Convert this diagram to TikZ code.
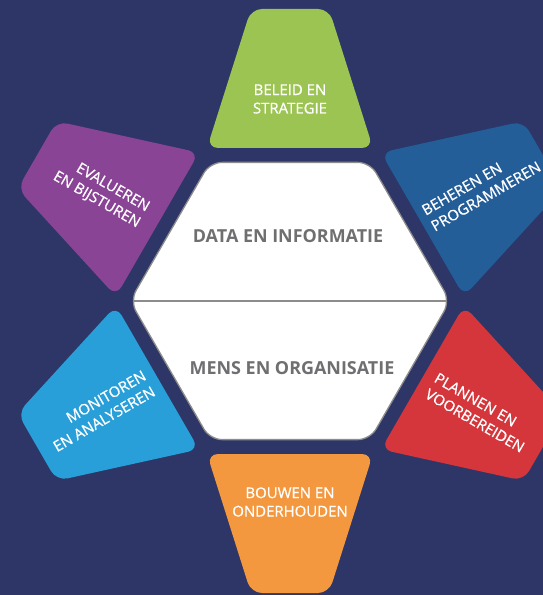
\documentclass[tikz,border=0pt]{standalone}
\usepackage{fontspec}
\setmainfont{Open Sans}
\newfontfamily\petalfont[FakeBold=0.7]{Open Sans}
\definecolor{navy}{HTML}{2D3666}
\definecolor{beleidgreen}{HTML}{9BC453}
\definecolor{beherenblue}{HTML}{245E99}
\definecolor{plannenred}{HTML}{D5363C}
\definecolor{bouwenorange}{HTML}{F4983F}
\definecolor{monitorenblue}{HTML}{289FD8}
\definecolor{evaluerenpurple}{HTML}{8A4495}
\definecolor{coregray}{HTML}{6F6F71}
\tikzset{
  petal/.style={rounded corners=11bp},
  petaltext/.style={text=white, font=\petalfont\fontsize{15}{18.5}\selectfont},
  coretext/.style={text=coregray, font=\fontsize{18}{22}\selectfont\bfseries}
}
\begin{document}
\begin{tikzpicture}[x=1bp,y=1bp]
    %% Background
    \fill[navy] (-290,-294) rectangle (253,301);
    \useasboundingbox (-290,-294) rectangle (253,301);
    \clip (-290,-294) rectangle (253,301);
    %% Petals
    \fill[beleidgreen,petal] (-83,153) -- (-39,292) -- (39,292) -- (83,153) -- cycle;
    \fill[beherenblue,petal,rotate=-60] (-83,153) -- (-39,292) -- (39,292) -- (83,153) -- cycle;
    \fill[plannenred,petal,rotate=-120] (-83,153) -- (-39,292) -- (39,292) -- (83,153) -- cycle;
    \fill[bouwenorange,petal,rotate=180] (-83,153) -- (-39,292) -- (39,292) -- (83,153) -- cycle;
    \fill[monitorenblue,petal,rotate=120] (-83,153) -- (-39,292) -- (39,292) -- (83,153) -- cycle;
    \fill[evaluerenpurple,petal,rotate=60] (-83,153) -- (-39,292) -- (39,292) -- (83,153) -- cycle;
    %% Hexagon
    \draw[fill=white, draw=gray!90, line width=1.3bp, rounded corners=12bp]
        (-160,0) -- (-80,138.6) -- (80,138.6) -- (160,0) -- (80,-138.6) -- (-80,-138.6) -- cycle;
    \draw[draw=gray!90, line width=1.3bp] (-156.5,0) -- (156.5,0);
    %% Labels
    \node[coretext] (data) at (-2,65) {DATA EN INFORMATIE};
    \node[coretext] (mens) at (2,-67) {MENS EN ORGANISATIE};
    \node[petaltext, align=center] (beleid) at (90:202) {BELEID EN\\STRATEGIE};
    \node[petaltext, align=left, rotate=30] (beheren) at (30.5:222) {BEHEREN EN\\PROGRAMMEREN};
    \node[petaltext, align=left, rotate=-30] (plannen) at (-30.5:220) {PLANNEN EN\\VOORBEREIDEN};
    \node[petaltext, align=center] (bouwen) at (270:201) {BOUWEN EN\\ONDERHOUDEN};
    \node[petaltext, align=right, rotate=30] (monitoren) at (210:220) {MONITOREN\\EN ANALYSEREN};
    \node[petaltext, align=right, rotate=-30] (evalueren) at (150:218) {EVALUEREN\\EN BIJSTUREN};
\end{tikzpicture}
\end{document}
